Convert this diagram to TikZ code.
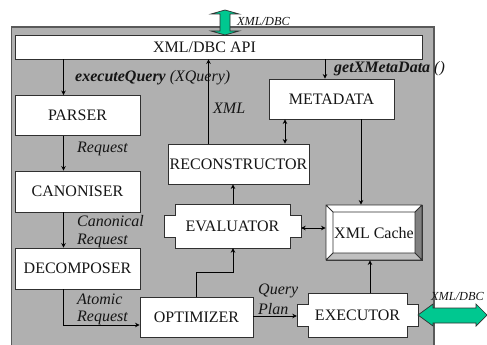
\documentclass[tikz,border=0pt]{standalone}
\usepackage{fontspec}
\setmainfont{Liberation Serif}
\usetikzlibrary{arrows.meta}
\definecolor{panelgray}{HTML}{B0B0B0}
\definecolor{edgegray}{HTML}{5A5A5A}
\definecolor{boxedge}{HTML}{303030}
\definecolor{flowgreen}{HTML}{00C890}
\definecolor{txt}{HTML}{151515}
\definecolor{bevelright}{HTML}{808080}
\definecolor{bevelbottom}{HTML}{C0C0C0}
\tikzset{
  x=1pt,y=-1pt,
  boxnode/.style={draw=boxedge,fill=white,line width=0.9pt,inner sep=0pt,text=txt,font=\fontsize{16}{18}\selectfont},
  plainnode/.style={inner sep=0pt,text=txt,font=\fontsize{16}{18}\selectfont},
  shapeline/.style={draw=boxedge,fill=white,line width=0.9pt},
  lab/.style={anchor=west,inner sep=0pt,text=txt,font=\fontsize{16}{18}\selectfont\itshape},
  smalllab/.style={anchor=west,inner sep=0pt,text=txt,font=\fontsize{12.3}{14}\selectfont\itshape},
  conn/.style={draw=black,line width=0.8pt,-{Stealth[length=4.5pt,width=4.5pt]}},
  biconn/.style={draw=black,line width=0.8pt,{Stealth[length=4.5pt,width=4.5pt]}-{Stealth[length=4.5pt,width=4.5pt]}},
  bigarrow/.style={draw=boxedge,fill=flowgreen,line width=0.7pt},
}
\begin{document}
\begin{tikzpicture}
\useasboundingbox (0,0) rectangle (487,345);
\clip (0,0) rectangle (487,345);
\draw[draw=edgegray,fill=panelgray,line width=1.2pt] (11.5,27) rectangle (434,360);
% boxes
\node[boxnode,minimum width=407pt,minimum height=24pt] (api) at (218.5,47) {};
\node[plainnode] (apitext) at (204.5,47.5) {XML/DBC API};
\node[boxnode,minimum width=125pt,minimum height=40pt] (parser) at (77.5,115.5) {PARSER};
\node[boxnode,minimum width=125pt,minimum height=41pt] (canon) at (77.5,191.5) {CANONISER};
\node[boxnode,minimum width=125pt,minimum height=41pt] (decomp) at (77.5,268.5) {DECOMPOSER};
\node[boxnode,minimum width=113pt,minimum height=40pt] (opt) at (196.5,317) {OPTIMIZER};
\node[boxnode,minimum width=141pt,minimum height=40pt] (recon) at (238.5,164) {RECONSTRUCTOR};
\node[boxnode,minimum width=125pt,minimum height=40pt] (meta) at (331.5,99) {METADATA};
% evaluator
\path[shapeline] (175,204) -- (290,204) -- (290,215) -- (301,215) -- (301,237) -- (290,237) -- (290,248) -- (175,248) -- (175,237) -- (164,237) -- (164,215) -- (175,215) -- cycle;
\node[plainnode,minimum width=137pt,minimum height=44pt] (eval) at (232.5,226) {EVALUATOR};
% executor
\path[shapeline] (308,293) -- (407,293) -- (407,304) -- (418,304) -- (418,326) -- (407,326) -- (407,337) -- (308,337) -- (308,326) -- (297,326) -- (297,304) -- (308,304) -- cycle;
\node[plainnode,minimum width=121pt,minimum height=44pt] (exec) at (357.5,315.5) {EXECUTOR};
% cache
\node[boxnode,minimum width=96pt,minimum height=55pt] (cache) at (374,232.5) {};
\fill[white] (326,205) -- (422,205) -- (415,212) -- (333,212) -- (333,253) -- (326,260) -- cycle;
\fill[bevelright] (422,205) -- (422,260) -- (415,253) -- (415,212) -- cycle;
\fill[bevelbottom] (326,260) -- (422,260) -- (415,253) -- (333,253) -- cycle;
\draw[boxedge,line width=0.9pt] (326,205) rectangle (422,260) (333,212) rectangle (415,253)
  (326,205) -- (333,212) (422,205) -- (415,212) (326,260) -- (333,253) (422,260) -- (415,253);
\node[plainnode] (cachetext) at (374,233.5) {XML Cache};
% connectors
\draw[conn] (63.5,0 |- api.south) -- (63.5,0 |- parser.north);
\draw[conn] (63.5,0 |- parser.south) -- (63.5,0 |- canon.north);
\draw[conn] (63.5,0 |- canon.south) -- (63.5,0 |- decomp.north);
\draw[conn] (63.5,0 |- decomp.south) -- (63.5,325) -- (opt.west |- 0,325);
\draw[conn] (196,0 |- opt.north) -- (196,272) -- (233,272) -- (233,0 |- eval.south);
\draw[conn] (233,0 |- eval.north) -- (233,0 |- recon.south);
\draw[conn] (208.5,0 |- recon.north) -- (208.5,0 |- api.south);
\draw[conn] (325,0 |- api.south) -- (325,0 |- meta.north);
\draw[biconn] (285,0 |- meta.south) -- (285,0 |- recon.north);
\draw[conn] (361,0 |- meta.south) -- (361,0 |- cache.north);
\draw[biconn] (eval.east |- 0,228) -- (cache.west |- 0,228);
\draw[conn] (370,0 |- exec.north) -- (370,0 |- cache.south);
\draw[conn] (opt.east |- 0,316) -- (exec.west |- 0,316);
% big arrows
\path[bigarrow] (225,10) -- (239,14) -- (230,14) -- (230,31) -- (239,31) -- (225,35) -- (211,31) -- (220,31) -- (220,14) -- (211,14) -- cycle;
\path[bigarrow] (418,315) -- (433,304) -- (433,308) -- (476,308) -- (476,304) -- (487,315) -- (476,326) -- (476,323) -- (433,323) -- (433,326) -- cycle;
% labels
\node[lab] (l1) at (75,77.5) {\textbf{executeQuery} (XQuery)};
\node[lab] (l2) at (213,108) {XML};
\node[lab] (l3) at (334,68.5) {\textbf{getXMetaData} ()};
\node[lab] (l4) at (77,149) {Request};
\node[lab] (l5) at (77,221) {Canonical};
\node[lab] (l6) at (77,240.5) {Request};
\node[lab] (l7) at (77,299) {Atomic};
\node[lab] (l8) at (77,317.5) {Request};
\node[lab] (l9) at (258,290.5) {Query};
\node[lab] (l10) at (258,309.5) {Plan};
\node[smalllab] (l11) at (237,21) {XML/DBC};
\node[smalllab] (l12) at (431,296) {XML/DBC};
\end{tikzpicture}
\end{document}
